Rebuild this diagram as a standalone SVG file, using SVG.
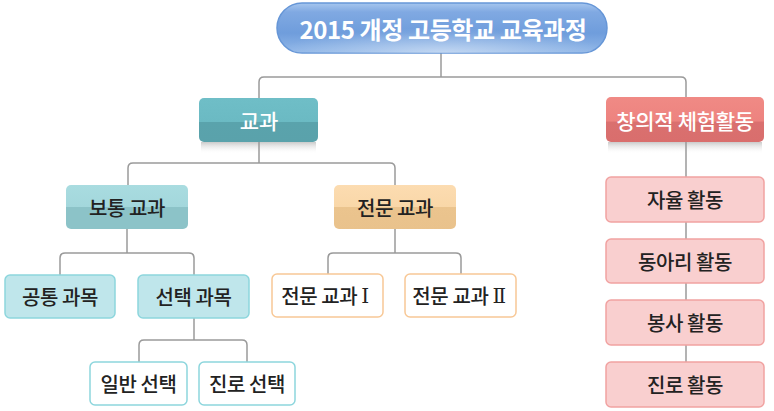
<svg xmlns="http://www.w3.org/2000/svg" width="774" height="411" viewBox="0 0 774 411">
<defs>
<linearGradient id="gTitle" x1="0" y1="0" x2="0" y2="1">
<stop offset="0" stop-color="#a6c6ee"/>
<stop offset="0.18" stop-color="#80a9e2"/>
<stop offset="0.6" stop-color="#6f9ddc"/>
<stop offset="1" stop-color="#92b8e8"/>
</linearGradient>
<radialGradient id="gGlow" cx="0.5" cy="1" r="0.5">
<stop offset="0" stop-color="#ffffff" stop-opacity="0.45"/>
<stop offset="1" stop-color="#ffffff" stop-opacity="0"/>
</radialGradient>
<linearGradient id="gTeal" x1="0" y1="0" x2="0" y2="1">
<stop offset="0" stop-color="#6fbec7"/>
<stop offset="0.54" stop-color="#6bbac3"/>
<stop offset="0.55" stop-color="#5aa3ac"/>
<stop offset="1" stop-color="#5aa2ab"/>
</linearGradient>
<linearGradient id="gRed" x1="0" y1="0" x2="0" y2="1">
<stop offset="0" stop-color="#f08a85"/>
<stop offset="0.54" stop-color="#ed837f"/>
<stop offset="0.55" stop-color="#da706f"/>
<stop offset="1" stop-color="#d96e6d"/>
</linearGradient>
<linearGradient id="gLight" x1="0" y1="0" x2="0" y2="1">
<stop offset="0" stop-color="#a9dce0"/>
<stop offset="0.5" stop-color="#a3d7dc"/>
<stop offset="0.51" stop-color="#8cc3c8"/>
<stop offset="1" stop-color="#8cc3c8"/>
</linearGradient>
<linearGradient id="gOrange" x1="0" y1="0" x2="0" y2="1">
<stop offset="0" stop-color="#fcdcb1"/>
<stop offset="0.5" stop-color="#f9d7a8"/>
<stop offset="0.51" stop-color="#ebc48e"/>
<stop offset="1" stop-color="#e9c28c"/>
</linearGradient>
<linearGradient id="gShadow" x1="0" y1="0" x2="0" y2="1">
<stop offset="0" stop-color="#bdbdbd" stop-opacity="0.8"/>
<stop offset="1" stop-color="#ffffff" stop-opacity="0"/>
</linearGradient>
</defs>
<style>
text{font-family:"Noto Sans CJK KR","Noto Sans",sans-serif;text-anchor:middle;dominant-baseline:central;font-weight:500;}
.t{fill:#ffffff;font-size:24px;font-weight:bold;letter-spacing:-0.4px;}
.w{fill:#ffffff;font-size:21px;}
.d{fill:#222222;font-size:20px;letter-spacing:-0.4px;}
.roman{font-family:"Liberation Serif","DejaVu Serif","Noto Sans CJK KR",serif;font-weight:normal;}
.conn{fill:none;stroke:#9a9a9a;stroke-width:1.5;}
.cyanw{fill:#ffffff;stroke:#8dd6dd;stroke-width:1.5;}
.cyan{fill:#bfe6eb;stroke:#8dd6dd;stroke-width:1.5;}
.orw{fill:#ffffff;stroke:#f8c896;stroke-width:1.5;}
.pink{fill:#f9cfcf;stroke:#f1a2a1;stroke-width:1.5;}
</style>
<g id="shadows">
<rect x="201" y="142" width="115" height="12" fill="url(#gShadow)"/>
<rect x="608" y="142" width="154" height="12" fill="url(#gShadow)"/>
</g>
<g id="connectors">
<path class="conn" d="M441,53 V77 M259,98 V82 Q259,77 264,77 H681 Q686,77 686,82 V98"/>
<path class="conn" d="M259,142 V163 M128,185 V168 Q128,163 133,163 H390 Q395,163 395,168 V185"/>
<path class="conn" d="M127,229 V253 M60,275 V258 Q60,253 65,253 H189 Q194,253 194,258 V275"/>
<path class="conn" d="M395,229 V253 M328,274 V258 Q328,253 333,253 H456 Q461,253 461,258 V274"/>
<path class="conn" d="M194,318 V340 M139,362 V345 Q139,340 144,340 H242 Q247,340 247,345 V362"/>
<path class="conn" d="M686,142 V362"/>
</g>
<g id="title">
<rect x="277" y="3" width="330" height="50" rx="25" fill="url(#gTitle)" stroke="#6696d7" stroke-width="1.5"/>
<rect x="277" y="3" width="330" height="50" rx="25" fill="url(#gGlow)"/>
<text class="t" x="443" y="28">2015 개정 고등학교 교육과정</text>
</g>
<g id="gyogwa">
<rect x="199" y="98" width="119" height="44" rx="5" fill="url(#gTeal)"/>
<text class="w" x="259" y="120">교과</text>
</g>
<g id="changui">
<rect x="606" y="97" width="158" height="45" rx="5" fill="url(#gRed)"/>
<text class="w" x="685" y="119.5" letter-spacing="-0.3">창의적 체험활동</text>
</g>
<g id="botong">
<rect x="66" y="185" width="122" height="44" rx="5" fill="url(#gLight)"/>
<text class="d" x="127" y="207">보통 교과</text>
</g>
<g id="jeonmun">
<rect x="334" y="185" width="122" height="44" rx="5" fill="url(#gOrange)"/>
<text class="d" x="395" y="207">전문 교과</text>
</g>
<g id="gongtong">
<rect class="cyan" x="5" y="275" width="110" height="43" rx="5"/>
<text class="d" x="60" y="296.5">공통 과목</text>
</g>
<g id="seontaek">
<rect class="cyan" x="138" y="275" width="111" height="43" rx="5"/>
<text class="d" x="193.5" y="296.5">선택 과목</text>
</g>
<g id="jeonmun1">
<rect class="orw" x="272" y="274" width="111" height="43" rx="5"/>
<text class="d" x="325" y="295.5">전문 교과 <tspan class="roman">Ⅰ</tspan></text>
</g>
<g id="jeonmun2">
<rect class="orw" x="405" y="274" width="111" height="43" rx="5"/>
<text class="d" x="459" y="295.5">전문 교과 <tspan class="roman">Ⅱ</tspan></text>
</g>
<g id="ilban">
<rect class="cyanw" x="90" y="362" width="97" height="43" rx="5"/>
<text class="d" x="138.5" y="383.5">일반 선택</text>
</g>
<g id="jinro-seontaek">
<rect class="cyanw" x="199" y="362" width="96" height="43" rx="5"/>
<text class="d" x="247" y="383.5">진로 선택</text>
</g>
<g id="jayul">
<rect class="pink" x="606" y="177" width="158" height="45" rx="5"/>
<text class="d" x="685" y="199.5">자율 활동</text>
</g>
<g id="dongari">
<rect class="pink" x="606" y="239" width="158" height="44" rx="5"/>
<text class="d" x="685" y="261">동아리 활동</text>
</g>
<g id="bongsa">
<rect class="pink" x="606" y="300" width="158" height="45" rx="5"/>
<text class="d" x="685" y="322.5">봉사 활동</text>
</g>
<g id="jinro-hwaldong">
<rect class="pink" x="606" y="362" width="158" height="45" rx="5"/>
<text class="d" x="685" y="384.5">진로 활동</text>
</g>
</svg>
